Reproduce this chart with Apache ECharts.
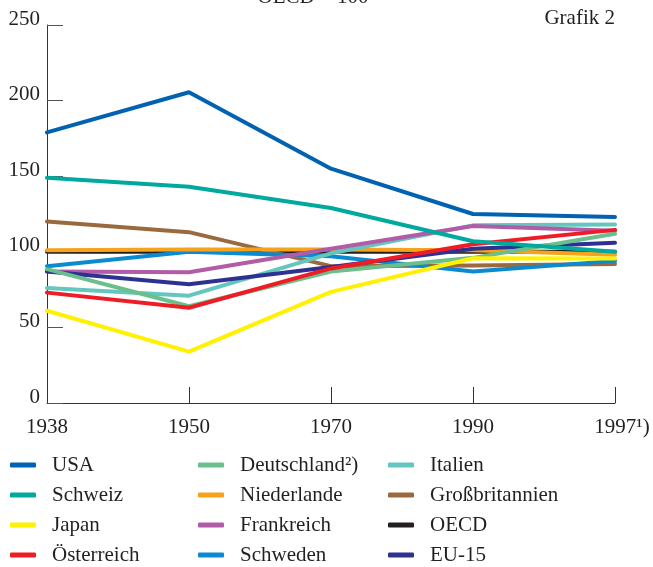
<!DOCTYPE html>
<html>
<head>
<meta charset="utf-8">
<script src="https://cdn.jsdelivr.net/npm/echarts@6/dist/echarts.min.js"></script>
<style>html,body{margin:0;padding:0;background:#fff}#c{width:653px;height:567px}</style>
</head>
<body>
<div id="c"></div>
<script>
const years = ['1938', '1950', '1970', '1990', '1997¹)'];
const yTicks = [0, 50, 100, 150, 200, 250];
const usa = [179, 205.5, 155, 125, 123];
const schweiz = [149, 143, 129, 107, 100];
const japan = [61, 34, 73.5, 95.7, 95.5];
const oesterreich = [73, 63, 89, 105, 114.5];
const deutschland = [88.5, 64, 87, 96, 112];
const niederlande = [101, 101.5, 101.5, 101, 98];
const frankreich = [87, 86.5, 102, 117, 114];
const schweden = [90.5, 100, 97, 87, 94];
const italien = [76, 71, 99, 117.5, 118];
const grossbritannien = [120, 113, 90.5, 91, 92];
const oecd = [100, 100, 100, 100, 100];
const eu15 = [87, 78.5, 90, 102, 106];

const FONT = 'Liberation Serif';
const TXT = '#231f20';

// drawing order (bottom to top)
const seriesDefs = [
  {name: 'OECD', data: oecd, color: '#231f20'},
  {name: 'Großbritannien', data: grossbritannien, color: '#9a6a3e'},
  {name: 'Schweden', data: schweden, color: '#0a8bd0'},
  {name: 'Niederlande', data: niederlande, color: '#f6a21c'},
  {name: 'Italien', data: italien, color: '#63c6bf'},
  {name: 'Frankreich', data: frankreich, color: '#b05ca6'},
  {name: 'EU-15', data: eu15, color: '#2e3192'},
  {name: 'Deutschland²)', data: deutschland, color: '#6bbf8c'},
  {name: 'Österreich', data: oesterreich, color: '#ee1c25'},
  {name: 'Japan', data: japan, color: '#fff100'},
  {name: 'Schweiz', data: schweiz, color: '#00a99e'},
  {name: 'USA', data: usa, color: '#0062b1'}
];

const col1 = ['USA', 'Schweiz', 'Japan', 'Österreich'];
const col2 = ['Deutschland²)', 'Niederlande', 'Frankreich', 'Schweden'];
const col3 = ['Italien', 'Großbritannien', 'OECD', 'EU-15'];

function mkLegend(data, left) {
  return {
    data: data,
    orient: 'vertical',
    left: left,
    top: 454,
    height: 113,
    width: 200,
    padding: 0,
    itemWidth: 26,
    itemHeight: 5,
    itemGap: 8,
    icon: 'roundRect',
    selectedMode: false,
    textStyle: {fontFamily: FONT, fontSize: 21, color: TXT, lineHeight: 22, padding: [0, 0, 0, 11]}
  };
}

const chart = echarts.init(document.getElementById('c'), null, {renderer: 'canvas'});
chart.setOption({
  animation: false,
  backgroundColor: '#fff',
  grid: {left: 47, right: 38, top: 25, bottom: 164, containLabel: false},
  graphic: [
    {type: 'text', style: {text: 'OECD = 100', x: 313, y: -3, textAlign: 'center', textVerticalAlign: 'middle', font: '21px "' + FONT + '"', fill: TXT}},
    {type: 'text', style: {text: 'Grafik 2', x: 615, y: 18, textAlign: 'right', textVerticalAlign: 'middle', font: '21px "' + FONT + '"', fill: TXT}}
  ],
  legend: [mkLegend(col1, 10), mkLegend(col2, 198), mkLegend(col3, 388)],
  xAxis: {
    type: 'category',
    data: years,
    boundaryGap: false,
    axisLine: {lineStyle: {color: '#333', width: 1}},
    axisTick: {inside: true, length: 16, interval: 0, lineStyle: {color: '#333'}},
    axisLabel: {
      interval: 0,
      margin: 14,
      fontFamily: FONT, fontSize: 21, color: TXT,
      formatter: function (v) { return v.length > 4 ? '{s|' + v + '}' : v; },
      rich: {s: {fontFamily: FONT, fontSize: 21, color: TXT, padding: [0, 0, 0, 14]}}
    },
    splitLine: {show: false}
  },
  yAxis: {
    type: 'value',
    min: yTicks[0],
    max: yTicks[yTicks.length - 1],
    interval: yTicks[1] - yTicks[0],
    axisLine: {show: true, lineStyle: {color: '#333', width: 1}},
    axisTick: {show: true, inside: true, length: 16, lineStyle: {color: '#555'}},
    axisLabel: {margin: 7, fontFamily: FONT, fontSize: 21, color: TXT, verticalAlign: 'bottom', lineHeight: 12},
    splitLine: {show: false}
  },
  series: seriesDefs.map(function (s) {
    return {
      name: s.name,
      type: 'line',
      data: s.data,
      symbol: 'none',
      showSymbol: false,
      lineStyle: {width: 4, color: s.color, join: 'round', cap: 'round'},
      itemStyle: {color: s.color},
      emphasis: {disabled: true}
    };
  })
});
</script>
</body>
</html>
